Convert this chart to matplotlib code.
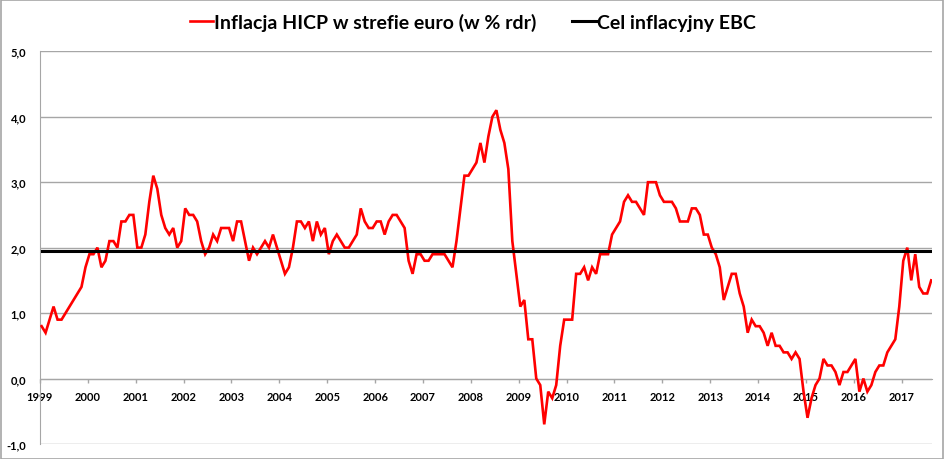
import numpy as np
import matplotlib
matplotlib.use("Agg")
import matplotlib.pyplot as plt
from matplotlib.ticker import FuncFormatter
from matplotlib.patches import Rectangle

plt.rcParams['font.family'] = ['Lato', 'DejaVu Sans']
plt.rcParams['font.weight'] = 'bold'

# HICP strefy euro, % r/r, miesięcznie od 1999-01 do 2017-08
hicp = [
    0.8, 0.7, 0.9, 1.1, 0.9, 0.9, 1.0, 1.1, 1.2, 1.3, 1.4, 1.7,   # 1999
    1.9, 1.9, 2.0, 1.7, 1.8, 2.1, 2.1, 2.0, 2.4, 2.4, 2.5, 2.5,   # 2000
    2.0, 2.0, 2.2, 2.7, 3.1, 2.9, 2.5, 2.3, 2.2, 2.3, 2.0, 2.1,   # 2001
    2.6, 2.5, 2.5, 2.4, 2.1, 1.9, 2.0, 2.2, 2.1, 2.3, 2.3, 2.3,   # 2002
    2.1, 2.4, 2.4, 2.1, 1.8, 2.0, 1.9, 2.0, 2.1, 2.0, 2.2, 2.0,   # 2003
    1.8, 1.6, 1.7, 2.0, 2.4, 2.4, 2.3, 2.4, 2.1, 2.4, 2.2, 2.3,   # 2004
    1.9, 2.1, 2.2, 2.1, 2.0, 2.0, 2.1, 2.2, 2.6, 2.4, 2.3, 2.3,   # 2005
    2.4, 2.4, 2.2, 2.4, 2.5, 2.5, 2.4, 2.3, 1.8, 1.6, 1.9, 1.9,   # 2006
    1.8, 1.8, 1.9, 1.9, 1.9, 1.9, 1.8, 1.7, 2.1, 2.6, 3.1, 3.1,   # 2007
    3.2, 3.3, 3.6, 3.3, 3.7, 4.0, 4.1, 3.8, 3.6, 3.2, 2.1, 1.6,   # 2008
    1.1, 1.2, 0.6, 0.6, 0.0, -0.1, -0.7, -0.2, -0.3, -0.1, 0.5, 0.9,  # 2009
    0.9, 0.9, 1.6, 1.6, 1.7, 1.5, 1.7, 1.6, 1.9, 1.9, 1.9, 2.2,   # 2010
    2.3, 2.4, 2.7, 2.8, 2.7, 2.7, 2.6, 2.5, 3.0, 3.0, 3.0, 2.8,   # 2011
    2.7, 2.7, 2.7, 2.6, 2.4, 2.4, 2.4, 2.6, 2.6, 2.5, 2.2, 2.2,   # 2012
    2.0, 1.9, 1.7, 1.2, 1.4, 1.6, 1.6, 1.3, 1.1, 0.7, 0.9, 0.8,   # 2013
    0.8, 0.7, 0.5, 0.7, 0.5, 0.5, 0.4, 0.4, 0.3, 0.4, 0.3, -0.2,  # 2014
    -0.6, -0.3, -0.1, 0.0, 0.3, 0.2, 0.2, 0.1, -0.1, 0.1, 0.1, 0.2,  # 2015
    0.3, -0.2, 0.0, -0.2, -0.1, 0.1, 0.2, 0.2, 0.4, 0.5, 0.6, 1.1,  # 2016
    1.8, 2.0, 1.5, 1.9, 1.4, 1.3, 1.3, 1.5,                       # 2017
]
cel_ebc = 1.95
lata = list(range(1999, 2018))

miesiace = np.arange(len(hicp))
cel = np.full(len(hicp), cel_ebc)

fig = plt.figure(figsize=(9.45, 4.6), dpi=100)
ax = fig.add_axes([40 / 945, 1 - 445 / 460, (932 - 40) / 945, (445 - 52.3) / 460])

ax.plot(miesiace, hicp, color='#ff0000', lw=1.9, label='Inflacja HICP w strefie euro (w % rdr)',
        solid_joinstyle='miter', zorder=3)
ax.plot(miesiace, cel, color='black', lw=2.2, label='Cel inflacyjny EBC', zorder=4)

ax.set_xlim(-0.4, 223.2)
ax.set_ylim(-1, 5)
ax.set_yticks(np.arange(-1, 6, 1))
ax.yaxis.set_major_formatter(FuncFormatter(lambda v, p: f"{v:.1f}".replace('.', ',')))
ax.set_xticks([12 * i - 0.4 for i in range(len(lata))])
ax.set_xticklabels([str(r) for r in lata])

ax.grid(axis='y', color='#a6a6a6', lw=1.0)
ax.set_axisbelow(True)
for s in ['top', 'right']:
    ax.spines[s].set_visible(False)
ax.spines['left'].set_color('#a6a6a6')
ax.spines['bottom'].set_color('#a6a6a6')
ax.spines['bottom'].set_position(('data', 0))
ax.tick_params(axis='y', length=0, pad=10, labelsize=8, colors='black')
ax.tick_params(axis='x', length=3, width=1, color='#a6a6a6', pad=6, labelsize=8)

fig.legend(loc='upper center', bbox_to_anchor=(0.5, 1.0), ncol=2, frameon=False,
           fontsize=14, handlelength=1.2, handletextpad=0.05, columnspacing=1.85,
           borderaxespad=0.3)

fig.patches.append(Rectangle((0.001, 0.001), 0.997, 0.997, transform=fig.transFigure,
                             fill=False, edgecolor='#a6a6a6', lw=1.2))

fig.savefig('out.png', dpi=100)
